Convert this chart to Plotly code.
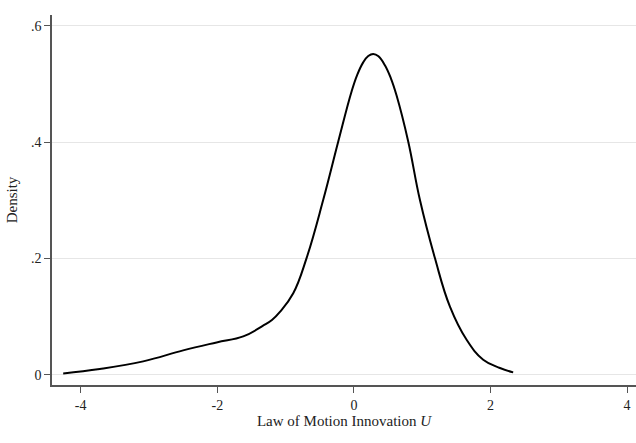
import plotly.graph_objects as go

# Kernel density of the law-of-motion innovation U
u_vals = [-4.256, -3.72, -3.085, -2.50, -2.01, -1.62, -1.33, -1.20,
          -1.083, -0.888, -0.693, -0.449, -0.229, -0.034, 0.05, 0.136, 0.21,
          0.283, 0.36, 0.454, 0.54, 0.625, 0.795, 0.966, 1.186, 1.406, 1.650,
          1.893, 2.138, 2.332]
density = [0.0022, 0.0098, 0.0229, 0.0418, 0.0555, 0.0658, 0.0842, 0.094,
           0.108, 0.140, 0.2005, 0.3007, 0.401, 0.487, 0.516, 0.537, 0.548,
           0.5515, 0.5475, 0.532, 0.510, 0.480, 0.401, 0.3007, 0.2005, 0.117,
           0.060, 0.0258, 0.0115, 0.004]

x_ticks = [-4, -2, 0, 2, 4]
x_tick_text = ["-4", "-2", "0", "2", "4"]
y_ticks = [0, 0.2, 0.4, 0.6]
y_tick_text = ["0", ".2", ".4", ".6"]

font_family = "Liberation Serif, Times New Roman, serif"

fig = go.Figure()
fig.add_trace(go.Scatter(
    x=u_vals, y=density, mode="lines",
    line=dict(color="black", width=2, shape="spline", smoothing=1.2),
    hoverinfo="skip", showlegend=False,
))

fig.update_layout(
    width=636, height=443,
    margin=dict(l=52, r=0, t=15, b=58),
    paper_bgcolor="white", plot_bgcolor="white",
    font=dict(family=font_family, size=14, color="#222"),
    xaxis=dict(
        range=[-4.42, 4.13],
        tickvals=x_ticks, ticktext=x_tick_text,
        ticks="outside", ticklen=6, tickwidth=1.2, tickcolor="#555",
        showline=True, linecolor="#555", linewidth=1.5,
        showgrid=False, zeroline=False,
        tickfont=dict(size=14),
        title=dict(text="Law of Motion Innovation <i>U</i>", standoff=2,
                   font=dict(size=15)),
    ),
    yaxis=dict(
        range=[-0.0177, 0.6184],
        tickvals=y_ticks, ticktext=y_tick_text,
        ticks="outside", ticklen=6, tickwidth=1.2, tickcolor="#555",
        showline=True, linecolor="#555", linewidth=1.5,
        showgrid=True, gridcolor="#e6e6e6", gridwidth=1,
        zeroline=False,
        tickfont=dict(size=14),
        title=dict(text="Density", standoff=10, font=dict(size=15)),
    ),
)

fig.write_html("out.html")
